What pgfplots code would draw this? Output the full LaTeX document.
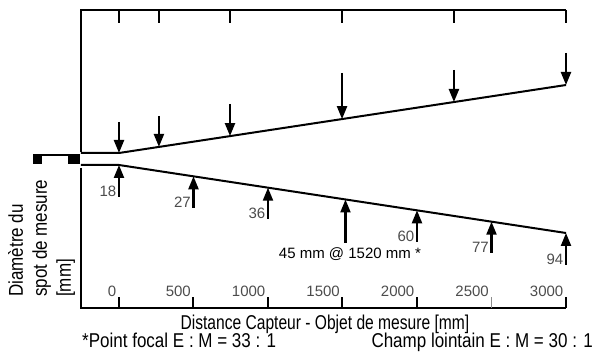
\documentclass[border=0pt]{standalone}
\usepackage{fontspec}
\setmainfont{Liberation Sans}
\newfontfamily\narrowfont[FakeStretch=0.78]{Liberation Sans}
\newfontfamily\notefont[FakeStretch=0.85]{Liberation Sans}
\usepackage{pgfplots}
\pgfplotsset{compat=1.18}
\usetikzlibrary{arrows.meta}
\begin{document}
\begin{tikzpicture}
\useasboundingbox (-81pt,-45pt) rectangle (517pt,308pt);
\begin{axis}[at={(0,0)}, anchor=south west, scale only axis,
  width=485pt, height=298pt,
  xmin=-255, xmax=3000, ymin=-149, ymax=149,
  hide axis, clip=false]
% frame
\addplot[black, line width=2pt, line join=miter] coordinates {(-255,7) (-255,149) (3000,149)};
\addplot[black, line width=2pt, line join=miter] coordinates {(-255,-9) (-255,-149) (3000,-149)};
% top ticks
\addplot[black, line width=2pt] coordinates {(0,149) (0,136)};
\addplot[black, line width=2pt] coordinates {(268,149) (268,136)};
\addplot[black, line width=2pt] coordinates {(745,149) (745,136)};
\addplot[black, line width=2pt] coordinates {(1497,149) (1497,136)};
\addplot[black, line width=2pt] coordinates {(2248,149) (2248,136)};
\addplot[black, line width=2pt] coordinates {(3000,149) (3000,136)};
% bottom ticks
\addplot[black, line width=2pt] coordinates {(0,-149) (0,-138)};
\addplot[black, line width=2pt] coordinates {(500,-149) (500,-138)};
\addplot[black, line width=2pt] coordinates {(1000,-149) (1000,-138)};
\addplot[black, line width=2pt] coordinates {(1500,-149) (1500,-138)};
\addplot[black, line width=2pt] coordinates {(2000,-149) (2000,-138)};
\addplot[black!45, line width=0.8pt] coordinates {(2500,-149) (2500,-138)};
\addplot[black, line width=2pt] coordinates {(3000,-149) (3000,-138)};
% beam
\addplot[black, line width=2pt, line join=miter] coordinates {(-255,6) (0,6) (3000,74)};
\addplot[black, line width=2pt, line join=miter] coordinates {(-255,-6) (0,-6) (3000,-74)};
% sensor
\addplot[black, fill=black, line width=0pt] coordinates {(-577,4.5) (-517,4.5) (-517,-4.5) (-577,-4.5)} --cycle;
\addplot[black, fill=black, line width=0pt] coordinates {(-336,4.5) (-268,4.5) (-268,-4.5) (-336,-4.5)} --cycle;
\addplot[black, line width=1.8pt] coordinates {(-520,3.6) (-333,3.6)};
% downward arrows (far field)
\addplot[black, line width=2.2pt, -{Triangle[length=13pt,width=10pt]}] coordinates {(0,37) (0,6)};
\addplot[black, line width=2.2pt, -{Triangle[length=13pt,width=10pt]}] coordinates {(268,43) (268,12.1)};
\addplot[black, line width=2.2pt, -{Triangle[length=13pt,width=10pt]}] coordinates {(745,55) (745,22.9)};
\addplot[black, line width=2.2pt, -{Triangle[length=13pt,width=10pt]}] coordinates {(1497,86) (1497,39.9)};
\addplot[black, line width=2.2pt, -{Triangle[length=13pt,width=10pt]}] coordinates {(2248,89) (2248,57)};
\addplot[black, line width=2.2pt, -{Triangle[length=13pt,width=10pt]}] coordinates {(3000,106) (3000,74)};
% upward arrows (spot diameter)
\addplot[black, line width=2.2pt, -{Triangle[length=13pt,width=10pt]}] coordinates {(0,-38) (0,-6)};
\addplot[black, line width=2.2pt, -{Triangle[length=13pt,width=10pt]}] coordinates {(500,-49) (500,-17.3)};
\addplot[black, line width=2.2pt, -{Triangle[length=13pt,width=10pt]}] coordinates {(1000,-60) (1000,-28.7)};
\addplot[black, line width=2.2pt, -{Triangle[length=13pt,width=10pt]}] coordinates {(1520,-84) (1520,-40.5)};
\addplot[black, line width=2.2pt, -{Triangle[length=13pt,width=10pt]}] coordinates {(2000,-83) (2000,-51.3)};
\addplot[black, line width=2.2pt, -{Triangle[length=13pt,width=10pt]}] coordinates {(2500,-94) (2500,-62.7)};
\addplot[black, line width=2.2pt, -{Triangle[length=13pt,width=10pt]}] coordinates {(3000,-106) (3000,-74)};
% values
\begin{scope}[every node/.style={anchor=south east, inner sep=0pt, xshift=-2.5pt, text=black!70, font=\fontsize{15}{15}\selectfont}]
\node at (axis cs:0,-38) {18};
\node at (axis cs:500,-49) {27};
\node at (axis cs:1000,-60) {36};
\node at (axis cs:2000,-83) {60};
\node at (axis cs:2500,-94) {77};
\node at (axis cs:3000,-106) {94};
% tick labels
\node at (axis cs:0,-137.5) {0};
\node at (axis cs:500,-137.5) {500};
\node at (axis cs:1000,-137.5) {1000};
\node at (axis cs:1500,-137.5) {1500};
\node at (axis cs:2000,-137.5) {2000};
\node at (axis cs:2500,-137.5) {2500};
\node at (axis cs:3000,-137.5) {3000};
\end{scope}
\node[anchor=base, inner sep=0pt, font=\fontsize{15}{15}\selectfont] at (axis cs:1550,-100) {45 mm @ 1520 mm *};
% labels
\node[anchor=base, inner sep=0pt, font=\narrowfont\fontsize{20}{20}\selectfont] at (axis cs:1382,-171) {Distance Capteur - Objet de mesure [mm]};
\node[anchor=base west, inner sep=0pt, font=\notefont\fontsize{20}{20}\selectfont] at (axis cs:-248,-189) {*Point focal E : M = 33 : 1};
\node[anchor=base east, inner sep=0pt, font=\notefont\fontsize{20}{20}\selectfont] at (axis cs:3181,-189) {Champ lointain E : M = 30 : 1};
\node[rotate=90, anchor=north west, inner sep=0pt, align=left, font=\notefont\fontsize{20}{24}\selectfont] at (axis cs:-745,-138) {Diamètre du\\spot de mesure\\{[mm]}};
\end{axis}
\end{tikzpicture}
\end{document}
